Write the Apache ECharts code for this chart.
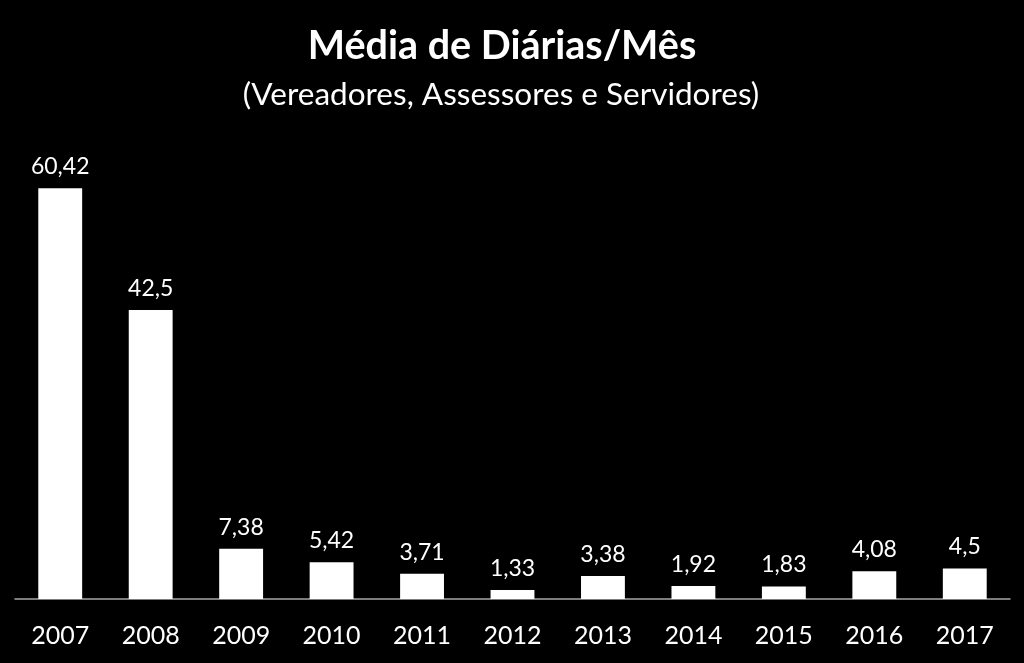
<!DOCTYPE html>
<html><head><meta charset="utf-8">
<script src="https://cdn.jsdelivr.net/npm/echarts@6/dist/echarts.min.js"></script>
<style>html,body{margin:0;padding:0;background:#000;}#c{width:1024px;height:663px;}</style>
</head><body><div id="c"></div>
<script>
const categories = ['2007','2008','2009','2010','2011','2012','2013','2014','2015','2016','2017'];
const values = [60.42, 42.5, 7.38, 5.42, 3.71, 1.33, 3.38, 1.92, 1.83, 4.08, 4.5];
const titleText = 'Média de Diárias/Mês';
const subtitleText = '(Vereadores, Assessores e Servidores)';

const chart = echarts.init(document.getElementById('c'));
chart.setOption({
  backgroundColor: '#000000',
  animation: false,
  title: [{
    text: titleText,
    left: 497,
    textAlign: 'center',
    top: 21,
    textStyle: {color: '#ffffff', fontFamily: 'Lato', fontWeight: 'bold', fontSize: 39.5}
  }, {
    text: subtitleText,
    left: 496,
    textAlign: 'center',
    top: 74,
    textStyle: {color: '#ffffff', fontFamily: 'Lato', fontWeight: 'normal', fontSize: 31.5}
  }],
  grid: {left: 15, right: 14, top: 123, bottom: 64, containLabel: false},
  xAxis: {
    type: 'category',
    data: categories,
    axisLine: {lineStyle: {color: '#a6a6a6', width: 1.5}},
    axisTick: {show: false},
    axisLabel: {color: '#ffffff', fontFamily: 'Lato', fontSize: 25, margin: 24}
  },
  yAxis: {
    type: 'value', min: 0, max: 70, show: false,
    splitLine: {show: false}
  },
  series: [{
    type: 'bar',
    data: values,
    barWidth: '48.5%',
    itemStyle: {color: '#ffffff'},
    label: {
      show: true, position: 'top', distance: 10,
      color: '#ffffff', fontFamily: 'Lato', fontSize: 23,
      formatter: p => String(p.value).replace('.', ',')
    }
  }]
});
</script></body></html>
